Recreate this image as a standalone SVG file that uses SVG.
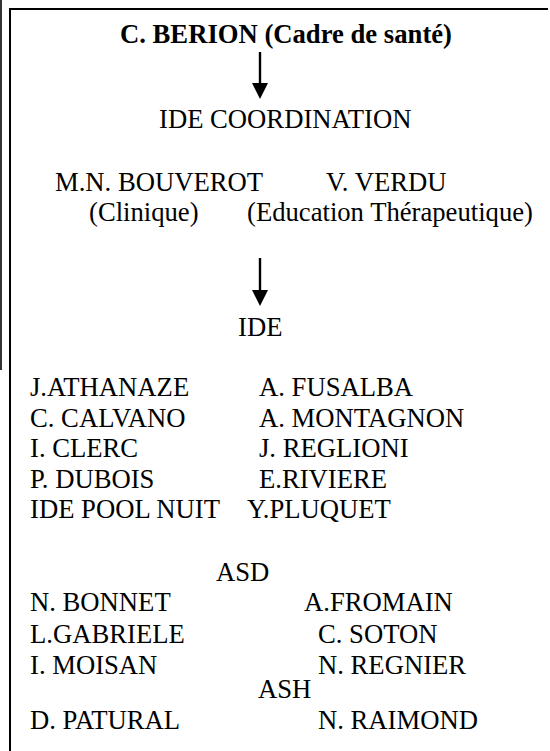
<svg xmlns="http://www.w3.org/2000/svg" width="550" height="751" viewBox="0 0 550 751" font-family="'Liberation Serif', 'Times New Roman', Tinos, 'DejaVu Serif', serif">
<style>
text{font-family:'Liberation Serif','Times New Roman',Tinos,'DejaVu Serif',serif;font-size:26.67px;fill:#000}
.b{font-weight:bold}
.ln{stroke:#000;fill:none}
</style>
<rect width="550" height="751" fill="#fff"/>
<g id="frame">
<line class="ln" x1="1" y1="0" x2="1" y2="370" stroke-width="1.6"/>
<line class="ln" x1="10" y1="9" x2="548" y2="9" stroke-width="2.2"/>
<line class="ln" x1="10" y1="8" x2="10" y2="751" stroke-width="2"/>
</g>
<g id="connectors">
<line class="ln" x1="260" y1="52" x2="260" y2="84" stroke-width="2.4"/>
<path d="M252,83 L268,83 L260,99 Z"/>
<line class="ln" x1="260" y1="258" x2="260" y2="291" stroke-width="2.4"/>
<path d="M252,290 L268,290 L260,306 Z"/>
</g>
<g id="cadre"><text class="b" x="120" y="43">C. BERION (Cadre de santé)</text></g>
<g id="coordination">
<text x="159" y="128">IDE COORDINATION</text>
<text x="55" y="191">M.N. BOUVEROT</text>
<text x="326" y="191">V. VERDU</text>
<text x="89" y="221">(Clinique)</text>
<text x="247" y="221">(Education Thérapeutique)</text>
</g>
<g id="ide">
<text x="238" y="336">IDE</text>
<text x="30" y="396">J.ATHANAZE</text>
<text x="259" y="396">A. FUSALBA</text>
<text x="30" y="426.5">C. CALVANO</text>
<text x="259" y="426.5">A. MONTAGNON</text>
<text x="30" y="457">I. CLERC</text>
<text x="259" y="457">J. REGLIONI</text>
<text x="30" y="487.5">P. DUBOIS</text>
<text x="259" y="487.5">E.RIVIERE</text>
<text x="30" y="518">IDE POOL NUIT</text>
<text x="247" y="518">Y.PLUQUET</text>
</g>
<g id="asd">
<text x="216" y="581">ASD</text>
<text x="30" y="611">N. BONNET</text>
<text x="304" y="611">A.FROMAIN</text>
<text x="30" y="643">L.GABRIELE</text>
<text x="318" y="643">C. SOTON</text>
<text x="30" y="674">I. MOISAN</text>
<text x="318" y="674">N. REGNIER</text>
</g>
<g id="ash">
<text x="258" y="698">ASH</text>
<text x="30" y="729">D. PATURAL</text>
<text x="318" y="729">N. RAIMOND</text>
</g>
</svg>
